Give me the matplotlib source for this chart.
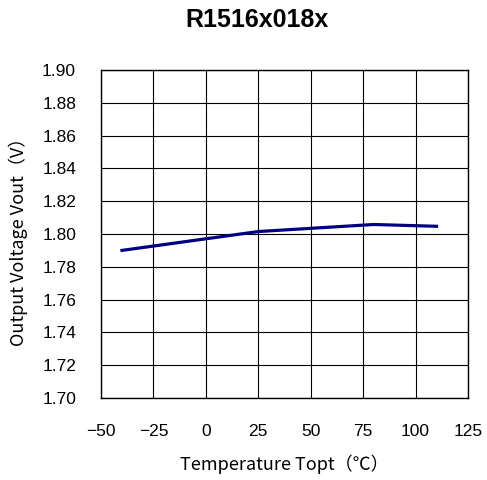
import matplotlib
matplotlib.use('Agg')
import matplotlib.pyplot as plt

temps = [-40, 25, 80, 110]
vout = [1.790, 1.8015, 1.8058, 1.8047]
xticks = [-50, -25, 0, 25, 50, 75, 100, 125]
yticks = [1.70, 1.72, 1.74, 1.76, 1.78, 1.80, 1.82, 1.84, 1.86, 1.88, 1.90]


def main():
    fig = plt.figure(figsize=(4.87, 4.80), dpi=100)
    ax = fig.add_axes([101 / 487, 82 / 480, 367 / 487, 328 / 480])

    ax.plot(temps, vout, color='#000080', linewidth=2.3)

    ax.set_xlim(-50, 125)
    ax.set_ylim(1.70, 1.90)
    ax.set_xticks(xticks)
    ax.set_yticks(yticks)
    ax.set_xticklabels(['\u221250', '\u221225', '0', '25', '50', '75', '100', '125'],
                       fontfamily='Liberation Sans', fontsize=12.5)
    ax.set_yticklabels(['%.2f' % v for v in yticks],
                       fontfamily='Liberation Sans', fontsize=12.5)
    ax.tick_params(axis='both', length=0)
    ax.tick_params(axis='x', pad=19)
    ax.tick_params(axis='y', pad=18)
    ax.grid(True, color='black', linewidth=0.8)
    for s in ax.spines.values():
        s.set_linewidth(1.0)
        s.set_color('black')

    ax.set_xlabel('Temperature Topt（\u2103）', fontfamily='Noto Sans CJK JP',
                  fontsize=13)
    ax.set_ylabel('Output Voltage Vout（V）', fontfamily='Noto Sans CJK JP',
                  fontsize=13)
    ax.xaxis.set_label_coords(0.5, -0.172)
    ax.yaxis.set_label_coords(-0.2, 0.49)
    fig.text(257 / 487, 1 - 20 / 480, 'R1516x018x', ha='center', va='center',
             fontfamily='Liberation Sans', fontweight='bold', fontsize=18)

    fig.savefig('out.png', dpi=100)


if __name__ == '__main__':
    main()
